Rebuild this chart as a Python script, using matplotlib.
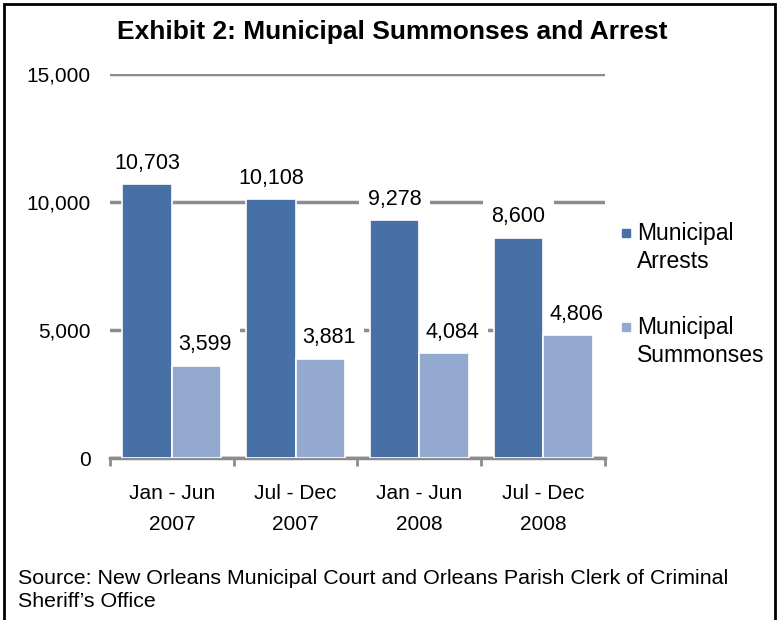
import matplotlib.pyplot as plt
from matplotlib.patches import Rectangle
import numpy as np

periods = ["Jan - Jun\n2007", "Jul - Dec\n2007", "Jan - Jun\n2008", "Jul - Dec\n2008"]
arrests = [10703, 10108, 9278, 8600]
summonses = [3599, 3881, 4084, 4806]
yticks = [0, 5000, 10000, 15000]
series = ["Municipal\nArrests", "Municipal\nSummonses"]

plt.rcParams['font.family'] = ['Liberation Sans', 'DejaVu Sans']

W, H = 779, 620
fig = plt.figure(figsize=(W / 100, H / 100), dpi=100)
fig.patch.set_facecolor('white')

# outer frame (bottom edge runs off the page)
fig.add_artist(Rectangle((4 / W, -0.05), 771 / W, 1.05 - 4 / H,
                         transform=fig.transFigure, fill=False,
                         edgecolor='black', lw=2))

ax = fig.add_axes([110 / W, 162 / H, 495 / W, 384 / H])
x = np.arange(len(periods))
bw = 0.4
c_arr = '#4670a6'
c_sum = '#94a9cf'
grid_c = '#8c8c8c'

ax.bar(x - bw / 2, arrests, bw, color=c_arr, edgecolor='white', lw=1.2, zorder=3)
ax.bar(x + bw / 2, summonses, bw, color=c_sum, edgecolor='white', lw=1.2, zorder=3)

# value labels sit on white boxes that blank out the gridlines (but stay behind bars)
box = dict(facecolor='white', edgecolor='none', pad=6)
for xi, v in zip(x, arrests):
    ax.annotate(f"{v:,}", (xi - bw / 2, v), xytext=(0, 7.5), textcoords='offset points',
                ha='center', va='bottom', fontsize=15.5, bbox=box, zorder=2)
for xi, v in zip(x, summonses):
    ax.annotate(f"{v:,}", (xi + bw / 2, v), xytext=(6, 7.5), textcoords='offset points',
                ha='center', va='bottom', fontsize=15.5, bbox=box, zorder=2)

ax.set_xlim(-0.5, len(periods) - 0.5)
ax.set_ylim(0, 15000)
ax.set_yticks(yticks)
ax.set_yticklabels([f"{t:,}" for t in yticks], fontsize=15)
ax.yaxis.grid(True, color=grid_c, lw=2.5, zorder=1)
ax.tick_params(axis='y', length=0, pad=14)

ax.set_xticks(x)
ax.set_xticklabels(periods, fontsize=15, linespacing=1.75)
ax.tick_params(axis='x', length=0, pad=19)
ax.set_xticks(np.arange(len(periods) + 1) - 0.5, minor=True)
ax.tick_params(axis='x', which='minor', length=6, width=2, color=grid_c, direction='out')

for s in ['top', 'right', 'left']:
    ax.spines[s].set_visible(False)
ax.spines['bottom'].set_color(grid_c)
ax.spines['bottom'].set_linewidth(2.5)

fig.text(392 / W, 1 - 32 / H, "Exhibit 2: Municipal Summonses and Arrest",
         ha='center', va='center', fontsize=19, fontweight='bold')

# legend: small square beside the first line of each two-line label
for (name, col, ytop) in zip(series, [c_arr, c_sum], [233, 327]):
    fig.add_artist(Rectangle((622 / W, 1 - (ytop + 4) / H), 8 / W, 8 / H,
                             transform=fig.transFigure, color=col))
    fig.text(637 / W, 1 - (ytop + 14.5) / H, name, ha='left', va='center',
             fontsize=16.5, linespacing=1.3)

fig.text(18 / W, 1 - 590 / H,
         "Source: New Orleans Municipal Court and Orleans Parish Clerk of Criminal\nSheriff\u2019s Office",
         ha='left', va='center', fontsize=15.4, linespacing=1.3)

fig.savefig('out.png', dpi=100)
